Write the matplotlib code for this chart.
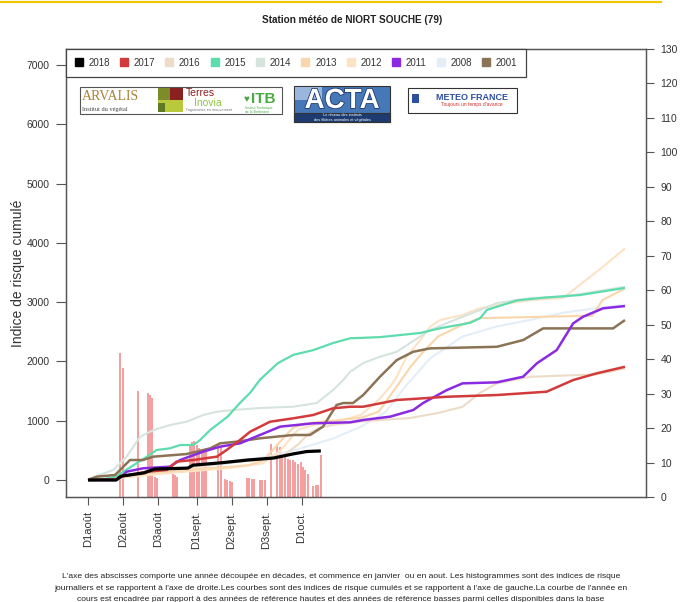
import matplotlib
matplotlib.use("Agg")
import matplotlib.pyplot as plt
from matplotlib.patches import Rectangle
from matplotlib.lines import Line2D
import matplotlib.patheffects as pe

plt.rcParams['font.family'] = ['Liberation Sans', 'DejaVu Sans']

W, H = 682, 602

# x = days since 1 August
tick_days = [0, 10, 20, 31, 41, 51, 61]
tick_labels = ["D1août", "D2août", "D3août", "D1sept.", "D2sept.", "D3sept.", "D1oct."]

# cumulated risk index (left axis)
days_2018 = [0, 8, 9.5, 16, 19, 28.5, 30, 38, 45.6, 53, 58.6, 62.5, 66.5]
vals_2018 = [0, 0, 65, 120, 185, 200, 250, 290, 337, 370, 440, 480, 490]

days_2017 = [0, 8, 9.1, 12, 16.8, 22.5, 25.3, 30.1, 33.9, 36.8, 39.6, 43.4, 46.3, 52, 58.6, 64.3,
             70, 74.9, 78.6, 88.2, 102.5, 116.8, 131, 138.6, 145.3, 153.4]
vals_2017 = [0, 10, 56, 84, 140, 169, 310, 337, 370, 393, 506, 674, 814, 983, 1040, 1096,
             1209, 1236, 1236, 1349, 1404, 1433, 1489, 1686, 1799, 1910]

days_2016 = [0, 8, 10, 20, 30, 40, 50, 56, 60, 63, 66, 70, 78.6, 83.4, 92, 100, 107, 112, 116.8,
             126.3, 135, 145, 153.4]
vals_2016 = [0, 0, 60, 150, 220, 290, 340, 420, 600, 780, 880, 930, 990, 1010, 1045, 1130, 1235,
             1470, 1630, 1740, 1760, 1780, 1880]

days_2015 = [0, 5, 8, 13, 17, 19.6, 23.4, 26.3, 30.1, 32, 34.9, 39.9, 43.4, 46.3, 49.1, 54.2, 58.6,
             64.3, 70, 74.9, 83.4, 94.9, 100.6, 109.1, 112, 114, 122.6, 131.1, 140.6, 153.4]
vals_2015 = [0, 20, 60, 250, 400, 506, 534, 590, 590, 674, 843, 1070, 1300, 1470, 1690, 1970, 2110,
             2190, 2310, 2390, 2410, 2480, 2560, 2650, 2730, 2870, 3030, 3080, 3120, 3240]

days_2014 = [0, 0.6, 7.2, 11, 14.9, 18.7, 23.4, 28.2, 32.9, 36.8, 41.4, 49.1, 58.6, 65.3, 70, 72.9,
             74.9, 78.6, 83.4, 88.2, 97.7, 107, 112, 116.8, 126.3, 135.7, 153.4]
vals_2014 = [0, 28, 169, 393, 730, 843, 927, 983, 1096, 1152, 1180, 1214, 1236, 1298, 1517, 1686,
             1826, 1973, 2079, 2163, 2529, 2753, 2866, 2984, 3069, 3090, 3259]

days_2013 = [0, 8, 10, 20, 30, 40, 46, 50, 53, 56, 58.6, 62, 66, 70, 78, 83, 88, 92, 96, 100, 107,
             112, 120, 135, 144, 147, 153.4]
vals_2013 = [0, 0, 60, 130, 180, 220, 250, 330, 520, 720, 880, 950, 980, 1000, 1050, 1150, 1560,
             1900, 2180, 2420, 2620, 2730, 2740, 2760, 2770, 3035, 3230]

days_2012 = [0, 8, 10, 20, 30, 40, 50, 55, 60, 66, 72, 78, 83, 86.3, 88.2, 91, 94.9, 97.7, 100.6,
             107, 112, 116.8, 126.3, 135.7, 138.6, 147.1, 153.4]
vals_2012 = [0, 0, 40, 100, 150, 200, 280, 500, 850, 950, 1000, 1100, 1350, 1573, 1742, 2079, 2360,
             2585, 2698, 2782, 2900, 2950, 3035, 3069, 3203, 3596, 3906]

days_2011 = [0, 8, 9.5, 11, 15.7, 23.4, 26.3, 32.9, 37.7, 43.4, 49.1, 54.9, 64.3, 74.9, 78.6, 86.3,
             92.9, 95.7, 102.5, 107, 116.8, 124.3, 128.2, 133.9, 138.6, 141.4, 147.1, 153.4]
vals_2011 = [0, 0, 50, 140, 197, 225, 337, 478, 562, 618, 759, 900, 956, 973, 1012, 1068, 1180,
             1298, 1517, 1630, 1647, 1742, 1967, 2192, 2642, 2753, 2895, 2934]

days_2008 = [0, 8, 10, 20, 30, 40, 50, 60, 70, 78, 85, 91, 97.7, 107, 116.8, 126.3, 135.7, 145.3, 153.4]
vals_2008 = [0, 0, 50, 120, 200, 280, 380, 520, 700, 900, 1150, 1600, 2050, 2420, 2590, 2700, 2820,
             2900, 2950]

days_2001 = [0, 2.5, 7.7, 12, 15.7, 18.6, 28.2, 34.9, 37.7, 42.5, 49.1, 58.6, 63.4, 67.1, 71, 72.9,
             75.7, 78.6, 83.4, 88.2, 92.9, 97.7, 116.8, 124.3, 130, 150, 153.4]
vals_2001 = [0, 56, 84, 337, 337, 393, 438, 534, 618, 646, 703, 759, 759, 899, 1265, 1298, 1298,
             1433, 1742, 2023, 2163, 2220, 2247, 2360, 2557, 2557, 2698]

# daily risk index 2018 (right axis)
bar_days = [9.1, 10.1, 14.2, 17.0, 17.7, 18.4, 19.0, 19.6, 24.2, 24.9, 25.4,
            29.0, 29.6, 30.3, 31.0, 31.8, 32.5, 33.1, 33.7, 37.2, 37.9, 39.1, 39.8, 40.5, 41.1,
            45.3, 46.0, 46.7, 47.4, 49.1, 49.8, 50.5, 52.3, 54.1, 54.8, 55.5, 56.3, 57.0, 57.7,
            58.5, 59.2, 59.9, 60.7, 61.4, 62.1, 62.9, 64.4, 65.1, 65.7, 66.5]
bar_vals = [41.7, 37.5, 30.7, 30.3, 29.7, 28.6, 5.8, 5.6, 6.8, 6.3, 5.8,
            15.0, 16.0, 16.2, 15.0, 14.2, 13.6, 13.6, 13.0, 15.0, 14.5, 5.3, 5.0, 4.6, 4.3,
            5.4, 5.4, 5.3, 5.1, 4.9, 5.0, 4.9, 15.5, 15.5, 14.5, 12.1, 11.6, 11.1, 10.7,
            10.7, 10.2, 9.7, 10.2, 8.7, 7.8, 6.8, 3.2, 3.4, 3.6, 12.1]

years = ["2018", "2017", "2016", "2015", "2014", "2013", "2012", "2011", "2008", "2001"]
colors = {"2018": "black", "2017": "#d13b3b", "2016": "#ecdcc8", "2015": "#5edcae",
          "2014": "#d6e4de", "2013": "#f9d6ab", "2012": "#fde2c6", "2011": "#8a2be2",
          "2008": "#e4eef8", "2001": "#8b7355"}
series = {"2018": (days_2018, vals_2018), "2017": (days_2017, vals_2017),
          "2016": (days_2016, vals_2016), "2015": (days_2015, vals_2015),
          "2014": (days_2014, vals_2014), "2013": (days_2013, vals_2013),
          "2012": (days_2012, vals_2012), "2011": (days_2011, vals_2011),
          "2008": (days_2008, vals_2008), "2001": (days_2001, vals_2001)}
widths = {"2018": 2.3, "2017": 1.8, "2011": 1.8, "2001": 1.8, "2015": 1.6}
draw_order = ["2008", "2012", "2013", "2014", "2016", "2015", "2001", "2011", "2017", "2018"]


def fx(x):
    return x / W


def fy(y):
    return 1 - y / H


def box(fig, x0, y0, x1, y1, **kw):
    fig.add_artist(Rectangle((fx(x0), fy(y1)), (x1 - x0) / W, (y1 - y0) / H,
                             transform=fig.transFigure, **kw))


fig = plt.figure(figsize=(W / 100, H / 100), dpi=100)
ax = fig.add_axes([fx(66), fy(497), (646 - 66) / W, (497 - 49) / H])
ax2 = ax.twinx()

ax2.bar(bar_days, bar_vals, width=0.58, color="#f5a0a0", linewidth=0)
ax2.set_ylim(0, 130)
ax2.set_yticks(range(0, 131, 10))

for yr in draw_order:
    d, v = series[yr]
    ax.plot(d, v, color=colors[yr], lw=widths.get(yr, 1.5), solid_capstyle="butt")

ax.set_xlim(-6.3, 159.4)
ax.set_ylim(-287, 7270)
ax.set_yticks(range(0, 7001, 1000))
ax.set_xticks(tick_days)
ax.set_xticklabels(tick_labels, rotation=90, fontsize=8, color="#333")
ax.set_ylabel("Indice de risque cumulé", fontsize=10, color="#333", labelpad=1)

ax.set_zorder(ax2.get_zorder() + 1)
ax.patch.set_visible(False)

for a in (ax, ax2):
    for s in a.spines.values():
        s.set_color("#555")
        s.set_linewidth(0.9)
ax.tick_params(axis="y", direction="out", length=7, width=0.8, color="#555",
               labelsize=7.5, labelcolor="#333", pad=5)
ax.tick_params(axis="x", direction="out", length=6, width=0.8, color="#555", pad=4)
ax2.tick_params(axis="y", direction="out", length=5.5, width=0.8, color="#555",
                labelsize=7.5, labelcolor="#333", pad=5)

handles = [Line2D([], [], marker="s", ls="none", color=colors[y], markersize=5.5) for y in years]
leg = ax.legend(handles, years, ncol=10, loc="upper left", bbox_to_anchor=(0, 1),
                borderaxespad=0, fontsize=7, handlelength=0.8, handletextpad=0.6,
                columnspacing=1.05, borderpad=0.9, fancybox=False, framealpha=1,
                edgecolor="#444")
leg.get_frame().set_linewidth(0.9)
for t in leg.get_texts():
    t.set_color("#333")

# title and top line
fig.add_artist(Line2D([0, fx(661)], [fy(1.5), fy(1.5)], color="#f0c800", lw=1.6,
                      transform=fig.transFigure))
fig.text(fx(352), fy(20), "Station météo de NIORT SOUCHE (79)", fontsize=7.2,
         fontweight="bold", ha="center", va="center", color="#222")

# partner logos
box(fig, 80, 87, 282, 114, facecolor="white", edgecolor="#555", lw=0.8, zorder=5)
fig.text(fx(82), fy(97), "ARVALIS", family="Liberation Serif", fontsize=10,
         color="#a8823a", va="center", zorder=6)
fig.text(fx(82), fy(109), "Institut du végétal", family="Liberation Serif", fontsize=4.5,
         color="#444", va="center", zorder=6)
box(fig, 158, 88, 183, 112, facecolor="#b9c93c", edgecolor="none", zorder=6)
box(fig, 158, 88, 170, 100, facecolor="#7d8c2a", edgecolor="none", zorder=6)
box(fig, 170, 88, 183, 100, facecolor="#8b2020", edgecolor="none", zorder=6)
box(fig, 158, 103, 165, 112, facecolor="#5e7a22", edgecolor="none", zorder=6)
fig.text(fx(186), fy(93.5), "Terres", fontsize=7.5, color="#8b1e1e", va="center", zorder=6)
fig.text(fx(194), fy(103), "Inovia", fontsize=7.5, color="#8dc63f", va="center", zorder=6)
fig.text(fx(186), fy(110.5), "l'agronomie en mouvement", fontsize=2.8, color="#777",
         va="center", zorder=6)
fig.text(fx(243), fy(99), "\u2665", fontsize=7, color="#49a942", va="center", zorder=6)
fig.text(fx(251), fy(99), "ITB", fontsize=11, fontweight="bold", color="#49a942",
         va="center", zorder=6)
fig.text(fx(245), fy(110), "Institut Technique\nde la Betterave", fontsize=2.5,
         color="#49a942", va="center", zorder=6, linespacing=1)

box(fig, 294, 86, 390, 122, facecolor="#4677b6", edgecolor="#333", lw=0.8, zorder=5)
box(fig, 295, 87, 322, 100, facecolor="#9bb6dc", edgecolor="none", zorder=6)
box(fig, 294, 113, 390, 122, facecolor="#1d3b70", edgecolor="#333", lw=0.8, zorder=6)
fig.text(fx(342), fy(101), "ACTA", fontsize=20, fontweight="bold", color="white",
         ha="center", va="center", zorder=7,
         path_effects=[pe.withStroke(linewidth=1.2, foreground="#1d3b70")])
fig.text(fx(342), fy(117.5), "Le réseau des instituts\ndes filières animales et végétales",
         fontsize=2.8, color="white", ha="center", va="center", zorder=7, linespacing=1)

box(fig, 408, 88, 517, 113, facecolor="white", edgecolor="#333", lw=0.8, zorder=5)
box(fig, 412, 94, 419, 103, facecolor="#2d4fa0", edgecolor="none", zorder=6)
fig.text(fx(472), fy(97), "METEO FRANCE", fontsize=6.5, fontweight="bold", color="#2d4fa0",
         ha="center", va="center", zorder=6)
fig.text(fx(472), fy(104.5), "Toujours un temps d'avance", fontsize=3.5, color="#d03030",
         ha="center", va="center", zorder=6)

# caption
caption = ["L'axe des abscisses comporte une année découpée en décades, et commence en janvier  ou en aout. Les histogrammes sont des indices de risque",
           "journaliers et se rapportent à l'axe de droite.Les courbes sont des indices de risque cumulés et se rapportent à l'axe de gauche.La courbe de l'année en",
           "cours est encadrée par rapport à des années de référence hautes et des années de référence basses parmi celles disponibles dans la base"]
for i, line in enumerate(caption):
    fig.text(0.5, fy(577 + 11.3 * i), line, fontsize=6.1, ha="center", va="center", color="#222")

fig.savefig("out.png", dpi=100)
